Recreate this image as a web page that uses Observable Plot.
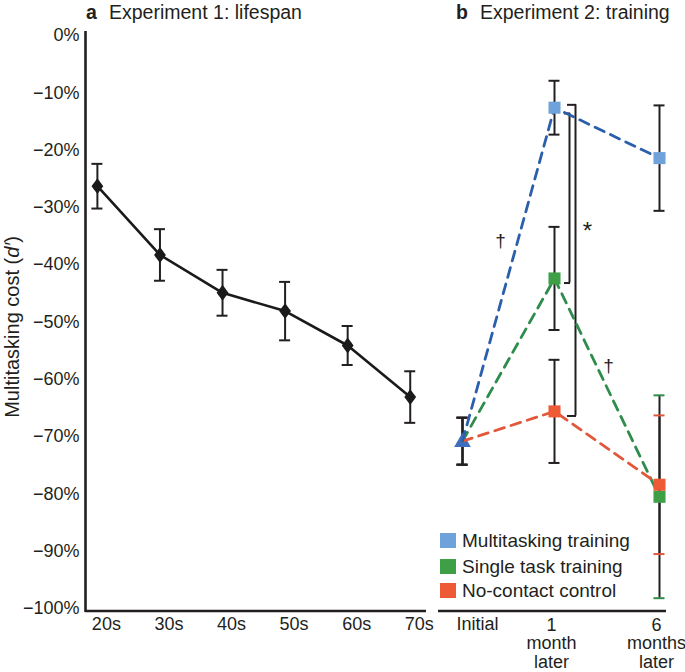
<!DOCTYPE html>
<html><head><meta charset="utf-8">
<script src="https://cdn.jsdelivr.net/npm/d3@7"></script>
<script src="https://cdn.jsdelivr.net/npm/@observablehq/plot@0.6"></script>
<style>
body{margin:0;background:#fff;}
#wrap{position:relative;width:685px;height:672px;overflow:hidden;font-family:"Liberation Sans",Arial,Helvetica,sans-serif;color:#231f20;background:#fff;}
#wrap svg{position:absolute;left:0;top:0;background:transparent !important;}
.t{position:absolute;white-space:nowrap;font-size:19.5px;line-height:20px;}
.lg{position:absolute;white-space:nowrap;font-size:19px;line-height:19px;}
.sw{position:absolute;width:16px;height:15px;}
</style></head><body>
<div id="wrap">
  <div class="t" style="left:86px;top:2px;font-weight:bold;">a</div>
  <div class="t" style="left:109px;top:2px;">Experiment 1: lifespan</div>
  <div class="t" style="left:456px;top:2px;font-weight:bold;">b</div>
  <div class="t" style="left:480px;top:2px;">Experiment 2: training</div>
  <div style="position:absolute;left:12px;top:327px;transform:translate(-50%,-50%) rotate(-90deg);white-space:nowrap;font-size:20px;line-height:20px;">Multitasking cost (<i>d′</i>)</div>
  <div id="legend"></div>
</div>
<script>
// ---- Data ----
const ageGroups = ["20s", "30s", "40s", "50s", "60s", "70s"];
const lifespanCost = [-26.3, -38.3, -44.9, -48.1, -54.1, -63.1];
const lifespanErr = [3.9, 4.5, 4.0, 5.1, 3.4, 4.5];

const timePoints = ["Initial", "1\nmonth\nlater", "6\nmonths\nlater"];
const groups = ["Multitasking training", "Single task training", "No-contact control"];
const multitaskCost = [-70.8, -12.6, -21.4];
const multitaskErr = [4.1, 4.7, 9.2];
const singleCost = [-70.8, -42.4, -80.5];
const singleErr = [4.1, 9.0, 17.7];
const controlCost = [-70.8, -65.6, -78.4];
const controlErr = [4.1, 9.0, 12.1];

const yTicks = [0, -10, -20, -30, -40, -50, -60, -70, -80, -90, -100];

// significance annotations (value positions)
const brackets = [{top: -13.6, bottom: -43.2}, {top: -12.1, bottom: -66.4}];
const daggers = [{t: 0.413, y: -35.8, s: "†"}, {t: 1.514, y: -57.7, s: "†"}];
const stars = [{t: 1.314, y: -34.2, s: "*"}];

// ---- Styles ----
const ink = "#231f20";
const markerColors = ["#6fa2da", "#3e9f46", "#ef5a36"];
const lineColors = ["#2b5fab", "#2e8c4c", "#e2573a"];
const triColor = "#3d6dbd";
const font = "'Liberation Sans', Arial, Helvetica, sans-serif";
const W = 685, H = 672;
const yScale = {domain: [-100, 0], range: [608, 35]};
const fmt = d => (d < 0 ? "\u2212" : "") + Math.abs(d) + "%";

// ---- Panel a ----
const life = ageGroups.map((g, i) => ({i, g, cost: lifespanCost[i], err: lifespanErr[i]}));
const lifeCaps = life.flatMap(d => [{i: d.i, y: d.cost + d.err}, {i: d.i, y: d.cost - d.err}]);
const xADomain = [-0.19, 5.26];
const diamond = {
  draw(ctx, size) {
    const h = Math.sqrt(size / Math.PI);
    ctx.moveTo(0, -h * 1.1); ctx.lineTo(h * 0.82, 0); ctx.lineTo(0, h * 1.1); ctx.lineTo(-h * 0.82, 0); ctx.closePath();
  }
};

const plotA = Plot.plot({
  width: W, height: H,
  marginLeft: 85, marginRight: W - 426, marginTop: 31, marginBottom: H - 610,
  style: {background: "transparent", fontFamily: font, fontSize: "18px", color: ink, overflow: "visible"},
  x: {type: "linear", domain: xADomain},
  y: yScale,
  marks: [
    Plot.axisY({ticks: yTicks, tickFormat: fmt, tickSize: 0, tickPadding: 6, label: null}),
    Plot.axisX({ticks: d3.range(ageGroups.length), tickFormat: i => ageGroups[i], tickSize: 0, tickPadding: 7, dx: 9, label: null}),
    Plot.ruleX([xADomain[0]], {stroke: ink, strokeWidth: 2.6, insetBottom: -2}),
    Plot.ruleY([-100], {stroke: ink, strokeWidth: 2.6, dy: 2.5}),
    Plot.ruleX(life, {x: "i", y1: d => d.cost - d.err, y2: d => d.cost + d.err, stroke: ink, strokeWidth: 2}),
    Plot.ruleY(lifeCaps, {y: "y", x1: "i", x2: "i", insetLeft: -5.5, insetRight: -5.5, stroke: ink, strokeWidth: 2}),
    Plot.line(life, {x: "i", y: "cost", stroke: "#1a1a1a", strokeWidth: 2.6}),
    Plot.dot(life, {x: "i", y: "cost", symbol: diamond, r: 7.2, fill: "#1a1a1a", stroke: "none"})
  ]
});

// ---- Panel b ----
const costs = [multitaskCost, singleCost, controlCost];
const errs = [multitaskErr, singleErr, controlErr];
const rows = groups.flatMap((g, gi) => timePoints.map((tp, t) => ({group: g, gi, t, cost: costs[gi][t], err: errs[gi][t]})));
const capsB = rows.flatMap(d => {
  const c = (d.t === 2 && d.gi > 0) ? lineColors[d.gi] : ink;
  return [{t: d.t, y: d.cost + d.err, c, o: c === ink ? 0 : 1}, {t: d.t, y: d.cost - d.err, c, o: c === ink ? 0 : 1}];
}).sort((a, b) => a.o - b.o);
const lineOrder = [1, 2, 0];
const lineRows = lineOrder.flatMap(gi => rows.filter(d => d.gi === gi));

const plotB = Plot.plot({
  width: W, height: H,
  marginLeft: 438, marginRight: W - 666, marginTop: 31, marginBottom: H - 610,
  style: {background: "transparent", fontFamily: font, fontSize: "18px", color: ink, overflow: "visible"},
  x: {type: "linear", domain: [0, 1, 2], range: [462, 554, 659]},
  y: {...yScale, axis: null},
  color: {type: "identity"},
  marks: [
    Plot.axisX({ticks: [0], tickFormat: i => timePoints[i], tickSize: 0, tickPadding: 7, dx: 15, label: null}),
    Plot.axisX({ticks: [1, 2], tickFormat: i => timePoints[i], tickSize: 0, tickPadding: 7, dx: -3, lineHeight: 1.03, label: null}),
    Plot.ruleY([-100], {stroke: ink, strokeWidth: 2.6, dy: 2.5}),
    Plot.ruleX(rows, {x: "t", y1: d => d.cost - d.err, y2: d => d.cost + d.err, stroke: ink, strokeWidth: 2}),
    Plot.ruleY(capsB, {y: "y", x1: "t", x2: "t", insetLeft: -5.5, insetRight: -5.5, stroke: "c", strokeWidth: 2}),
    // brackets
    Plot.ruleX([brackets[0]], {x: () => 1, y1: "top", y2: "bottom", dx: 15, stroke: ink, strokeWidth: 2}),
    Plot.ruleX([brackets[1]], {x: () => 1, y1: "top", y2: "bottom", dx: 21, stroke: ink, strokeWidth: 2}),
    Plot.ruleY([brackets[0].top, brackets[0].bottom], {x1: () => 1, x2: () => 1, insetLeft: 10, insetRight: -16, stroke: ink, strokeWidth: 2}),
    Plot.ruleY([brackets[1].top, brackets[1].bottom], {x1: () => 1, x2: () => 1, insetLeft: 13, insetRight: -22, stroke: ink, strokeWidth: 2}),
    Plot.text(daggers, {x: "t", y: "y", text: "s", fontSize: 19, fill: ink}),
    Plot.text(stars, {x: "t", y: "y", text: "s", fontSize: 24, fill: ink}),
    // initial triangle
    Plot.dot(rows.filter(d => d.t === 0 && d.gi === 0), {x: "t", y: "cost", symbol: "triangle", r: 6.2, fill: triColor, stroke: "none", dy: 1}),
    // dashed lines
    Plot.line(lineRows, {x: "t", y: "cost", z: "group", stroke: d => lineColors[d.gi], strokeWidth: 2.8, strokeDasharray: "10,7"}),
    // squares
    Plot.dot(rows.filter(d => d.t > 0), {x: "t", y: "cost", symbol: "square", r: 6.8, fill: d => markerColors[d.gi], stroke: "none"})
  ]
});

const wrap = document.getElementById("wrap");
wrap.appendChild(plotA);
wrap.appendChild(plotB);

// legend
const legend = document.getElementById("legend");
const legTops = [531, 557, 581];
groups.forEach((g, i) => {
  const sw = document.createElement("div");
  sw.className = "sw";
  sw.style.left = "440px"; sw.style.top = (legTops[i] + 2) + "px"; sw.style.background = markerColors[i];
  legend.appendChild(sw);
  const tx = document.createElement("div");
  tx.className = "lg";
  tx.style.left = "462px"; tx.style.top = legTops[i] + "px";
  tx.textContent = g;
  legend.appendChild(tx);
});
legend.style.position = "absolute"; legend.style.left = "0"; legend.style.top = "0"; legend.style.zIndex = "5";
</script>
</body></html>
